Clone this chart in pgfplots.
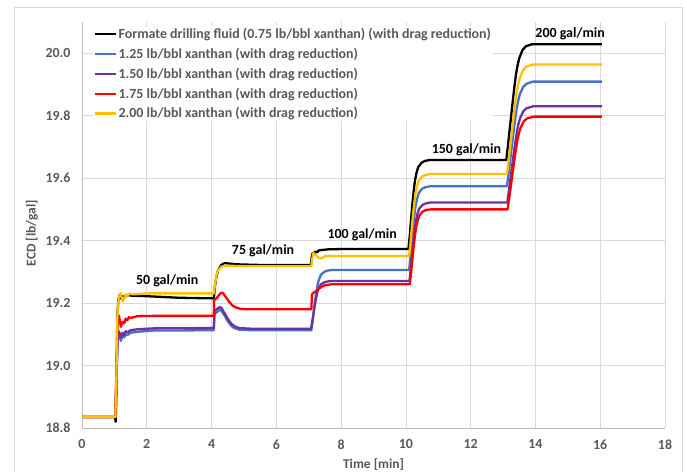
\documentclass[border=0pt]{standalone}
\usepackage{fontspec}
\setmainfont{Carlito}
\usepackage{pgfplots}
\pgfplotsset{compat=1.18}
\definecolor{txtgray}{HTML}{595959}
\definecolor{gridgray}{HTML}{D9D9D9}
\definecolor{axgray}{HTML}{BFBFBF}
\definecolor{cblue}{HTML}{4472C4}
\definecolor{cpurple}{HTML}{7030A0}
\definecolor{cred}{HTML}{FF0000}
\definecolor{corange}{HTML}{FFC000}
\begin{document}
\begin{tikzpicture}
\useasboundingbox (0bp,0bp) rectangle (687bp,472bp);
\draw[gridgray, line width=0.75bp] (14bp,-2bp) -- (14bp,465bp) -- (682bp,465bp) -- (682bp,-2bp);
\begin{axis}[
  at={(82bp,44bp)}, anchor=south west,
  width=583bp, height=406bp, scale only axis,
  xmin=0, xmax=18, ymin=18.8, ymax=20.1,
  xtick={0,2,4,6,8,10,12,14,16,18},
  ytick={18.8,19,19.2,19.4,19.6,19.8,20},
  grid=major, major grid style={gridgray, line width=0.75bp},
  axis x line*=bottom, axis y line*=left,
  axis line style={axgray, line width=0.75bp, -},
  major tick length=0pt,
  /pgf/number format/assume math mode=true,
  tick label style={font=\fontsize{14}{16}\selectfont\bfseries, text=txtgray},
  yticklabel style={/pgf/number format/fixed, /pgf/number format/fixed zerofill, /pgf/number format/precision=1, xshift=-8bp},
  xticklabel style={yshift=-8bp},
  xlabel={Time [min]}, ylabel={ECD [lb/gal]},
  label style={font=\fontsize{13.5}{15}\selectfont\bfseries, text=txtgray},
  xlabel style={at={(axis description cs:0.5,-0.089)}, anchor=center},
  ylabel style={at={(axis description cs:-0.086,0.48)}, anchor=center, rotate=0},
  legend style={at={(axis description cs:0.019,0.99)}, anchor=north west, draw=none, fill=white,
    font=\fontsize{14}{16}\selectfont\bfseries, text=txtgray, row sep=6bp, inner sep=1bp,
    nodes={inner sep=1bp}},
  legend cell align=left,
  legend image code/.code={\draw[#1] (0bp,0bp) -- (21bp,0bp);},
  every axis plot/.append style={line width=2.3bp, line join=round},
]
\addplot[black] coordinates {
(0,18.835)(1.02,18.835)(1.04,18.82)(1.06,18.9)(1.09,19.15)(1.12,19.21)(1.16,19.225)(1.2,19.215)(1.25,19.222)(1.3,19.218)(1.4,19.226)(1.5,19.224)(2.0,19.222)(3.0,19.217)(4.07,19.215)
(4.1,19.25)(4.15,19.285)(4.2,19.305)(4.3,19.322)(4.4,19.328)(4.5,19.327)(4.8,19.324)(5.5,19.322)(7.07,19.322)
(7.09,19.345)(7.12,19.36)(7.15,19.357)(7.2,19.365)(7.25,19.362)(7.3,19.368)(7.4,19.37)(7.6,19.372)(8,19.373)(10.08,19.373)
(10.12,19.416)(10.16,19.467)(10.20,19.516)(10.24,19.558)(10.28,19.592)(10.33,19.618)(10.38,19.635)(10.48,19.649)(10.58,19.655)(10.73,19.658)(13.1,19.658)
(13.15,19.703)(13.2,19.751)(13.25,19.799)(13.3,19.847)(13.35,19.892)(13.4,19.933)(13.45,19.962)(13.5,19.984)(13.6,20.010)(13.7,20.022)(13.9,20.029)(16.05,20.029)
};
\addlegendentry{Formate drilling fluid (0.75 lb/bbl xanthan) (with drag reduction)}
\addplot[cblue] coordinates {
(0,18.835)(1.03,18.835)(1.06,18.95)(1.1,19.08)(1.14,19.1)(1.2,19.079)(1.25,19.095)(1.3,19.09)(1.35,19.1)(1.4,19.097)(1.5,19.105)(1.7,19.108)(2.2,19.112)(4.07,19.113)
(4.09,19.165)(4.15,19.17)(4.25,19.178)(4.3,19.176)(4.4,19.16)(4.5,19.142)(4.6,19.128)(4.7,19.12)(4.85,19.115)(5.2,19.113)(7.08,19.113)
(7.12,19.142)(7.16,19.177)(7.20,19.21)(7.24,19.238)(7.28,19.262)(7.33,19.279)(7.38,19.291)(7.48,19.30)(7.58,19.304)(7.73,19.306)(10.1,19.306)
(10.14,19.346)(10.18,19.394)(10.22,19.44)(10.26,19.48)(10.30,19.512)(10.35,19.536)(10.40,19.553)(10.50,19.566)(10.60,19.571)(10.75,19.574)(13.12,19.574)
(13.17,19.614)(13.22,19.658)(13.27,19.701)(13.32,19.745)(13.37,19.785)(13.42,19.822)(13.47,19.849)(13.52,19.869)(13.62,19.892)(13.72,19.902)(13.92,19.909)(16.05,19.909)
};
\addlegendentry{1.25 lb/bbl xanthan (with drag reduction)}
\addplot[cpurple] coordinates {
(0,18.835)(1.03,18.835)(1.06,18.95)(1.1,19.09)(1.14,19.11)(1.2,19.09)(1.25,19.105)(1.3,19.098)(1.35,19.11)(1.4,19.106)(1.5,19.113)(1.7,19.116)(2.2,19.119)(4.07,19.12)
(4.09,19.175)(4.15,19.18)(4.25,19.187)(4.3,19.185)(4.4,19.168)(4.5,19.15)(4.6,19.135)(4.7,19.126)(4.85,19.12)(5.2,19.118)(7.07,19.118)
(7.11,19.141)(7.15,19.168)(7.19,19.195)(7.23,19.217)(7.27,19.236)(7.32,19.25)(7.37,19.259)(7.47,19.266)(7.57,19.269)(7.72,19.271)(10.11,19.271)
(10.15,19.309)(10.19,19.354)(10.23,19.397)(10.27,19.434)(10.31,19.464)(10.36,19.487)(10.41,19.502)(10.51,19.514)(10.61,19.519)(10.76,19.522)(13.13,19.522)
(13.18,19.559)(13.23,19.599)(13.28,19.639)(13.33,19.679)(13.38,19.716)(13.43,19.75)(13.48,19.775)(13.53,19.793)(13.63,19.815)(13.73,19.824)(13.93,19.83)(16.05,19.83)
};
\addlegendentry{1.50 lb/bbl xanthan (with drag reduction)}
\addplot[cred] coordinates {
(0,18.835)(1.03,18.835)(1.06,18.98)(1.1,19.15)(1.14,19.16)(1.2,19.124)(1.25,19.14)(1.3,19.135)(1.35,19.15)(1.4,19.145)(1.45,19.155)(1.5,19.152)(1.7,19.158)(2.2,19.159)(4.07,19.159)
(4.08,19.21)(4.15,19.215)(4.25,19.228)(4.3,19.233)(4.35,19.232)(4.45,19.218)(4.55,19.203)(4.65,19.192)(4.75,19.186)(4.9,19.181)(5.2,19.18)(7.08,19.18)
(7.1,19.228)(7.15,19.233)(7.2,19.236)(7.3,19.245)(7.4,19.252)(7.5,19.257)(7.7,19.26)(10.12,19.26)
(10.16,19.296)(10.2,19.339)(10.24,19.38)(10.28,19.416)(10.32,19.445)(10.37,19.466)(10.42,19.481)(10.52,19.493)(10.62,19.498)(10.77,19.5)(13.14,19.5)
(13.19,19.536)(13.24,19.574)(13.29,19.613)(13.34,19.651)(13.39,19.687)(13.44,19.72)(13.49,19.744)(13.54,19.761)(13.64,19.782)(13.74,19.791)(13.94,19.797)(16.05,19.797)
};
\addlegendentry{1.75 lb/bbl xanthan (with drag reduction)}
\addplot[corange] coordinates {
(0,18.835)(1.03,18.835)(1.06,18.95)(1.09,19.15)(1.13,19.215)(1.19,19.232)(1.26,19.205)(1.3,19.215)(1.35,19.228)(1.4,19.222)(1.45,19.23)(1.6,19.228)(2,19.231)(4.07,19.231)
(4.1,19.255)(4.15,19.288)(4.2,19.305)(4.3,19.316)(4.4,19.32)(5,19.318)(7.08,19.318)
(7.1,19.335)(7.14,19.36)(7.2,19.356)(7.3,19.345)(7.38,19.343)(7.5,19.35)(7.7,19.351)(10.1,19.351)
(10.14,19.390)(10.18,19.438)(10.22,19.482)(10.26,19.521)(10.30,19.553)(10.35,19.576)(10.40,19.592)(10.50,19.605)(10.60,19.610)(10.75,19.613)(13.12,19.613)
(13.17,19.655)(13.22,19.701)(13.27,19.746)(13.32,19.792)(13.37,19.834)(13.42,19.873)(13.47,19.901)(13.52,19.922)(13.62,19.946)(13.72,19.957)(13.92,19.964)(16.05,19.964)
};
\addlegendentry{2.00 lb/bbl xanthan (with drag reduction)}
\begin{scope}[every node/.style={font=\fontsize{14}{16}\selectfont\bfseries, text=black}]
\node at (axis cs:2.63,19.271) {50 gal/min};
\node at (axis cs:5.59,19.366) {75 gal/min};
\node at (axis cs:8.65,19.418) {100 gal/min};
\node at (axis cs:11.87,19.692) {150 gal/min};
\node at (axis cs:15.07,20.061) {200 gal/min};
\end{scope}
\end{axis}
\end{tikzpicture}
\end{document}
